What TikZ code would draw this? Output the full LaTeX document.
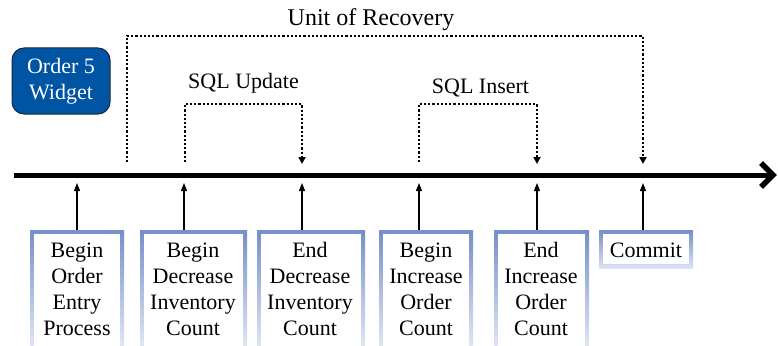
\documentclass[tikz,border=0pt]{standalone}
\usepackage{fontspec}
\setmainfont{Liberation Serif}
\usetikzlibrary{arrows.meta}
\definecolor{frameblue}{RGB}{118,142,202}
\definecolor{orderblue}{RGB}{0,84,164}
\definecolor{orderedge}{RGB}{30,40,60}
\begin{document}
\begin{tikzpicture}[x=1pt,y=-1pt,
  txt/.style={font=\fontsize{22}{26}\selectfont, inner sep=0pt},
  evtbox/.style={draw=none, inner sep=0pt, anchor=north west,
    top color=frameblue, bottom color=#1,
    path picture={\fill[white]
      ([xshift=4pt,yshift=-4pt]path picture bounding box.north west) rectangle
      ([xshift=-4pt,yshift=4pt]path picture bounding box.south east);}},
  evtbox/.default={frameblue!20},
  evtarrow/.style={line width=1.3pt, -{Triangle[width=6pt,length=8pt]}},
  dotlink/.style={line width=2.5pt, dash pattern=on 2.2pt off 2pt,
    -{Triangle[width=7pt,length=7pt]}},
  ordbox/.style={draw=orderedge, line width=1pt, fill=orderblue,
    rounded corners=12pt, minimum width=98pt, minimum height=66pt,
    text=white, align=center, font=\fontsize{22}{25.5}\selectfont, inner sep=0pt}]
\useasboundingbox (0,0) rectangle (778,345);
\clip (0,0) rectangle (778,345);

% timeline
\coordinate (tl0) at (14,175);
\coordinate (tl1) at (773,175);
\draw[line width=5pt] (tl0) -- (tl1);
\draw[line width=5.5pt] ([shift={(-12pt,-12pt)}]tl1) -- (tl1) -- ([shift={(-12pt,12pt)}]tl1);

% order tag
\node[ordbox] (ord) at (61,81) {Order 5\\Widget};

% event boxes
\node[evtbox, minimum width=94pt, minimum height=120pt] (b1) at (30,230) {};
\node[evtbox, minimum width=107pt, minimum height=120pt] (b2) at (140,230) {};
\node[evtbox, minimum width=108pt, minimum height=120pt] (b3) at (257,230) {};
\node[evtbox, minimum width=94pt, minimum height=120pt] (b4) at (379,230) {};
\node[evtbox, minimum width=95pt, minimum height=120pt] (b5) at (494,230) {};
\node[evtbox={frameblue!25}, minimum width=94pt, minimum height=38pt] (b6) at (599,230) {};

\node[txt, align=center, anchor=north] (t1) at (77,242.5) {Begin\\Order\\Entry\\Process};
\node[txt, align=center, anchor=north] (t2) at (193,242.5) {Begin\\Decrease\\Inventory\\Count};
\node[txt, align=center, anchor=north] (t3) at (310,242.5) {End\\Decrease\\Inventory\\Count};
\node[txt, align=center, anchor=north] (t4) at (426,242.5) {Begin\\Increase\\Order\\Count};
\node[txt, align=center, anchor=north] (t5) at (541,242.5) {End\\Increase\\Order\\Count};
\node[txt, align=center, anchor=north] (t6) at (646,242.5) {Commit};

% event markers on the timeline
\coordinate (a1) at (77,183);
\coordinate (a2) at (184,183);
\coordinate (a3) at (302,183);
\coordinate (a4) at (419,183);
\coordinate (a5) at (537,183);
\coordinate (a6) at (643,183);
\draw[evtarrow] (a1 |- b1.north) -- (a1);
\draw[evtarrow] (a2 |- b2.north) -- (a2);
\draw[evtarrow] (a3 |- b3.north) -- (a3);
\draw[evtarrow] (a4 |- b4.north) -- (a4);
\draw[evtarrow] (a5 |- b5.north) -- (a5);
\draw[evtarrow] (a6 |- b6.north) -- (a6);

% spans
\node[txt, font=\fontsize{24}{28}\selectfont, anchor=base] (lur) at (371,26) {Unit of Recovery};
\node[txt, anchor=base] (lupd) at (243.5,88) {SQL Update};
\node[txt, anchor=base] (lins) at (480.5,93) {SQL Insert};

\coordinate (u0) at (127,162);
\coordinate (u1) at (643,164);
\draw[dotlink] (u0) -- (127,36) -| (u1);
\coordinate (s0) at (185,162);
\coordinate (s1) at (302,164);
\draw[dotlink] (s0) -- (185,104) -| (s1);
\coordinate (i0) at (419,162);
\coordinate (i1) at (537,164);
\draw[dotlink] (i0) -- (419,104) -| (i1);
\end{tikzpicture}
\end{document}
